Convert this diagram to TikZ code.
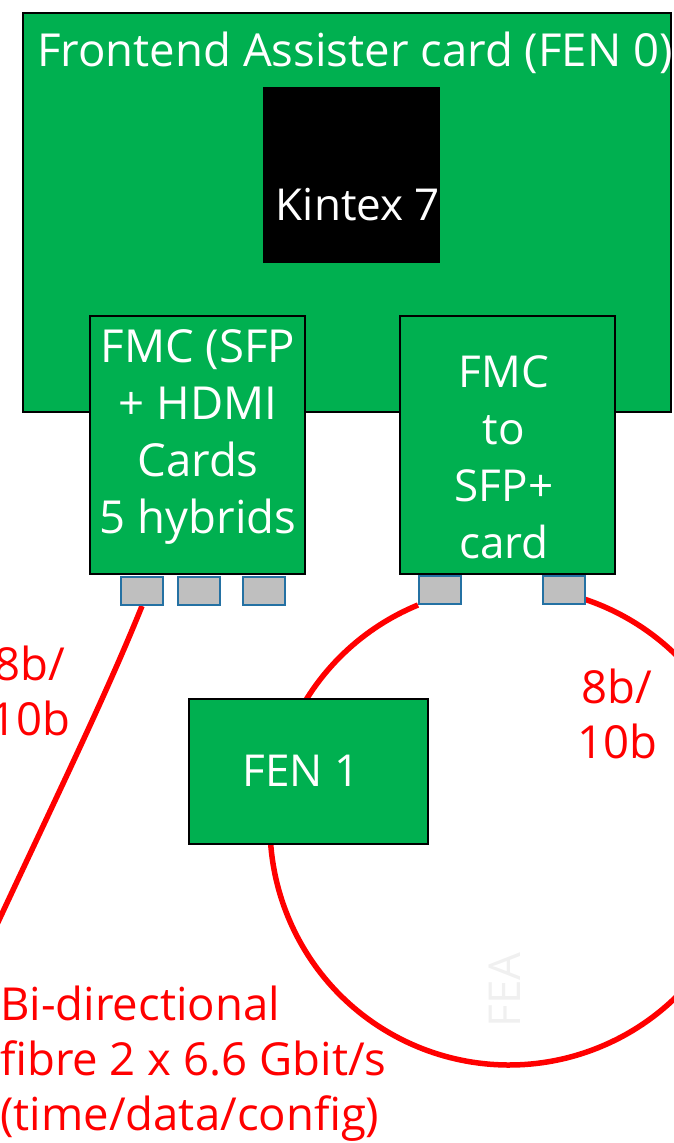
\documentclass[tikz,border=0pt]{standalone}
\usepackage{fontspec}
\setmainfont{Open Sans}
\usetikzlibrary{positioning, backgrounds}
\definecolor{cardgreen}{RGB}{0,176,80}
\definecolor{portblue}{RGB}{36,113,163}
\definecolor{fibrered}{RGB}{255,0,0}
\begin{document}
\begin{tikzpicture}[x=1pt, y=-1pt,
    card/.style={rectangle, draw=black, line width=2.5pt, fill=cardgreen, inner sep=0pt},
    chip/.style={rectangle, fill=black, inner sep=0pt},
    port/.style={rectangle, draw=portblue, line width=2pt, fill=black!25, minimum width=42pt, minimum height=28pt, inner sep=0pt},
    txt/.style={text=white, font=\fontsize{44}{57}\selectfont, align=center, inner sep=0pt},
    rtxt/.style={text=fibrered, font=\fontsize{45.5}{55}\selectfont, inner sep=0pt},
    fibre/.style={draw=fibrered, line width=5.5pt}
]
\useasboundingbox (0,0) rectangle (674,1143);

\node[card, minimum width=648pt, minimum height=399pt] (fen0) at (347,212.5) {};
\node[txt, anchor=base, font=\fontsize{45.5}{57}\selectfont] (fen0-title) at (355,66) {Frontend Assister card (FEN 0)};
\node[chip, minimum width=177pt, minimum height=176pt] (kintex) at (351.5,175) {};
\node[txt, anchor=base] (kintex-title) at (358,220) {Kintex 7};

\node[card, minimum width=215pt, minimum height=258pt] (fmc-hdmi) at (197.5,445) {};
\node[txt, font=\fontsize{45.5}{57}\selectfont] (fmc-hdmi-title) at (198,437) {FMC (SFP\\+ HDMI\\Cards\\5 hybrids};
\node[card, minimum width=215pt, minimum height=258pt] (fmc-sfp) at (507.5,445) {};
\node[txt] (fmc-sfp-title) at (504,457) {FMC\\to\\SFP+\\card};

\node[port] (lc1) at (142,591) {};
\node[port] (lc2) at (199,591) {};
\node[port] (lc3) at (264,591) {};
\node[port] (rc1) at (440,590) {};
\node[port] (rc2) at (564,590) {};

\node[card, minimum width=239pt, minimum height=145pt] (fen1) at (308.5,771.5) {};
\node[txt, anchor=base] (fen1-title) at (301,786) {FEN 1};

\coordinate (fibreend) at (-31,985);
\begin{scope}[on background layer]
\draw[fibre] (lc1.south) .. controls (100,710) and (40,830) .. (fibreend);
\draw[fibre] (rc1.south west) arc[start angle=112.4, end angle=431.6, radius=239pt];
\end{scope}

\node[rtxt, align=center] (rate-left) at (30,691) {8b/\\10b};
\node[rtxt, align=center] (rate-right) at (617,714) {8b/\\10b};
\node[rtxt, align=left, anchor=north west] (fibre-note) at (0,986) {Bi-directional\\fibre 2 x 6.6 Gbit/s\\(time/data/config)};

\node[rotate=90, text=black!6, font=\fontsize{44}{44}\selectfont, inner sep=0pt] (fea) at (505,990) {FEA};
\end{tikzpicture}
\end{document}
